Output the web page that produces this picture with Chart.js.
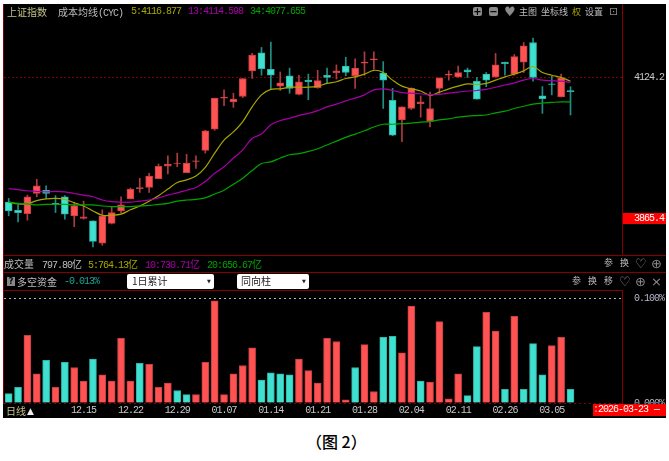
<!DOCTYPE html>
<html>
<head>
<meta charset="utf-8">
<title>上证指数</title>
<script src="https://cdn.jsdelivr.net/npm/chart.js@4/dist/chart.umd.min.js"></script>
<style>
    html, body { margin: 0; padding: 0; background: #fff; overflow: hidden; }
    #stage { position: relative; width: 669px; height: 461px; overflow: hidden; }
    #stage div, #stage span.t, #stage span.c, canvas { position: absolute; }
    #panel { left: 3px; top: 4px; width: 663px; height: 414px; background: #000; }
    .line { background: #860000; }
    .t { font: 10px/12px 'Liberation Mono', monospace; letter-spacing: -1px; white-space: pre; }
    .c { font: 10px/12px 'Noto Sans CJK SC', sans-serif; letter-spacing: 0; white-space: pre; }
    #stage span.c span.t, #stage span.t span.c { position: static; }
    .g { color: #bdbdbd; }
    .k { color: #c4c48c; }
    .y { color: #a6a600; }
    .m { color: #a800a8; }
    .n { color: #00a400; }
    .sym { font: 13px/12px 'DejaVu Sans', sans-serif; color: #8a8a8a; position: absolute; }
    .combo { background: #fff; border-radius: 2px; height: 15px; top: 274px; color: #222; }
    .combo span { position: absolute; top: 2px; }
    .btn { background: #8a8a8a; border-radius: 2px; width: 9px; height: 9px; top: 7px; color: #000;
           font: bold 10px/9px 'DejaVu Sans', sans-serif; text-align: center; }
</style>
</head>
<body>
<div id="stage">
    <div id="panel"></div>
    <div style="left:623px;top:213px;width:43px;height:11px;background:#ff0000"></div>
    <canvas id="priceChart" width="669" height="283" style="left:0;top:-12px"></canvas>
    <canvas id="fundChart" width="669" height="144" style="left:0;top:275px"></canvas>

    <!-- frame lines -->
    <div class="line" style="left:3px;top:4px;width:1px;height:400px"></div>
    <div class="line" style="left:622px;top:4px;width:1px;height:252px"></div>
    <div class="line" style="left:622px;top:291px;width:1px;height:113px"></div>
    <div class="line" style="left:3px;top:255px;width:663px;height:1px"></div>
    <div class="line" style="left:3px;top:272px;width:663px;height:1px"></div>
    <div class="line" style="left:3px;top:290px;width:620px;height:1px"></div>

    <!-- hides the lower half of the 0.000% tick, as in the terminal -->
    <div style="left:623px;top:404px;width:43px;height:14px;background:#000"></div>

    <!-- top row -->
    <span class="c k" style="left:7px;top:6px">上证指数</span>
    <span class="c g" style="left:58px;top:6px">成本均线<span class="t">(CYC)</span></span>
    <span class="t y" style="left:131px;top:6px">5:4116.877</span>
    <span class="t m" style="left:188px;top:6px">13:4114.598</span>
    <span class="t n" style="left:250px;top:6px">34:4077.655</span>
    <div class="btn" style="left:473px">+</div>
    <div class="btn" style="left:489px">−</div>
    <span class="sym" style="left:504px;top:6px">♥</span>
    <span class="c g" style="left:519px;top:6px;font-size:9px">主图</span>
    <span class="c g" style="left:541px;top:6px;font-size:9px">坐标线</span>
    <span class="c y" style="left:572px;top:6px;font-size:9px">权</span>
    <span class="c g" style="left:585px;top:6px;font-size:9px">设置</span>
    <span class="sym" style="left:609px;top:6px;font-size:11px">⊡</span>

    <!-- volume row -->
    <span class="c g" style="left:4px;top:258px">成交量</span>
    <span class="t g" style="left:42px;top:258px">797.80<span class="c">亿</span></span>
    <span class="t y" style="left:88px;top:258px">5:764.13<span class="c">亿</span></span>
    <span class="t m" style="left:145px;top:258px">10:730.71<span class="c">亿</span></span>
    <span class="t n" style="left:207px;top:258px">20:656.67<span class="c">亿</span></span>
    <span class="c g" style="left:604px;top:257px;font-size:9px">参</span>
    <span class="c g" style="left:620px;top:257px;font-size:9px">换</span>
    <span class="sym" style="left:635px;top:258px">♡</span>
    <span class="sym" style="left:651px;top:258px">⊕</span>

    <!-- fund row -->
    <div style="left:7px;top:277px;width:8px;height:9px;background:#888;color:#000;font:bold 8px/9px 'DejaVu Sans';text-align:center">?</div>
    <span class="c g" style="left:17px;top:276px">多空资金</span>
    <span class="t" style="left:64px;top:276px;color:#1fa394">-0.013%</span>
    <div class="combo" style="left:127px;width:87px">
        <span class="c" style="left:5px;top:1px;position:absolute">1日累计</span>
        <span class="sym" style="left:80px;top:1px;color:#222;font-size:5px">▼</span>
    </div>
    <div class="combo" style="left:237px;width:72px">
        <span class="c" style="left:4px;top:1px;position:absolute">同向柱</span>
        <span class="sym" style="left:65px;top:1px;color:#222;font-size:5px">▼</span>
    </div>
    <span class="c g" style="left:572px;top:275px;font-size:9px">参</span>
    <span class="c g" style="left:588px;top:275px;font-size:9px">换</span>
    <span class="c g" style="left:604px;top:275px;font-size:9px">移</span>
    <span class="sym" style="left:619px;top:276px">♡</span>
    <span class="sym" style="left:635px;top:276px">⊕</span>
    <span class="sym" style="left:651px;top:276px">×</span>

    <!-- bottom strip -->
    <span class="c k" style="left:6px;top:405px">日线</span>
    <span class="sym" style="left:27px;top:405px;color:#eee;font-size:9px">▲</span>
    <div style="left:593px;top:404px;width:73px;height:12px;background:#ff0000"></div>
    <span class="t" style="left:593px;top:404px;color:#ffb0b0">:</span>
    <span class="t" style="left:598px;top:404px;color:#fff">2026-03-23</span>
    <span class="t" style="left:654px;top:404px;color:#fff">—</span>

    <span class="c" style="left:306px;top:432px;font-size:16px;font-weight:500;line-height:18px;color:#000">（图 2）</span>
</div>

<script>
// Trading days shown on the x axis
const categories = [
    '12.03', '12.04', '12.05', '12.08', '12.09', '12.10', '12.11', '12.12', '12.15', '12.16',
    '12.17', '12.18', '12.19', '12.22', '12.23', '12.24', '12.25', '12.26', '12.29', '12.30',
    '12.31', '01.05', '01.06', '01.07', '01.08', '01.09', '01.12', '01.13', '01.14', '01.15',
    '01.16', '01.19', '01.20', '01.21', '01.22', '01.23', '01.26', '01.27', '01.28', '01.29',
    '01.30', '02.02', '02.03', '02.04', '02.05', '02.06', '02.09', '02.10', '02.11', '02.12',
    '02.13', '02.24', '02.25', '02.26', '02.27', '03.02', '03.03', '03.04', '03.05', '03.06', '03.09'
];
const tickLabels = ['12.15', '12.22', '12.29', '01.07', '01.14', '01.21', '01.28', '02.04', '02.11', '02.26', '03.05'];
const emptySlots = ['', ' ', '  ', '   ', '    '];

const opens = [
    3895, 3880, 3874, 3911, 3917, 3893, 3905, 3870, 3865, 3861,
    3820, 3856, 3879, 3901, 3920, 3922, 3938, 3961, 3966, 3949,
    3970, 3990, 4029, 4086, 4079, 4089, 4136, 4169, 4139, 4108,
    4127, 4093, 4119, 4105, 4128, 4132, 4145, 4127, 4150, 4156,
    4132, 4082, 4046, 4067, 4076, 4043, 4104, 4128, 4125, 4138,
    4117, 4130, 4125, 4152, 4130, 4152, 4188, 4090, 4112, 4088, 4100
];
const closes = [
    3879, 3876, 3905, 3925, 3911, 3891, 3873, 3889, 3868, 3823,
    3870, 3876, 3890, 3919, 3922, 3943, 3961, 3965, 3967, 3967,
    3971, 4026, 4086, 4088, 4084, 4122, 4165, 4140, 4128, 4114,
    4104, 4116, 4116, 4118, 4124, 4136, 4133, 4141, 4152, 4158,
    4119, 4018, 4070, 4104, 4079, 4067, 4123, 4130, 4133, 4134,
    4084, 4119, 4147, 4149, 4162, 4182, 4124, 4085, 4111, 4123, 4098
];
const highs = [
    3902, 3890, 3908, 3937, 3925, 3907, 3907, 3895, 3897, 3861,
    3881, 3887, 3905, 3921, 3939, 3948, 3965, 3980, 3985, 3983,
    3980, 4027, 4086, 4101, 4095, 4122, 4168, 4179, 4189, 4134,
    4141, 4128, 4130, 4137, 4141, 4147, 4161, 4158, 4171, 4171,
    4153, 4104, 4070, 4105, 4090, 4097, 4123, 4136, 4145, 4141,
    4124, 4133, 4168, 4152, 4166, 4188, 4196, 4107, 4126, 4130, 4107
];
const lows = [
    3870, 3859, 3862, 3905, 3902, 3876, 3864, 3850, 3864, 3813,
    3816, 3855, 3875, 3901, 3913, 3913, 3938, 3947, 3960, 3949,
    3957, 3985, 4027, 4072, 4069, 4087, 4122, 4128, 4102, 4100,
    4095, 4092, 4083, 4104, 4113, 4121, 4127, 4104, 4128, 4139,
    4067, 4017, 4006, 4065, 4051, 4033, 4095, 4119, 4124, 4124,
    4084, 4107, 4124, 4128, 4128, 4133, 4117, 4058, 4092, 4088, 4055
];

// Cost moving averages (CYC 5 / 13 / 34)
const cyc5 = [
    3895, 3892, 3892, 3898, 3901, 3902, 3900, 3894, 3888, 3879,
    3871, 3871, 3873, 3881, 3888, 3897, 3907, 3919, 3931, 3936,
    3943, 3959, 3985, 4009, 4024, 4043, 4070, 4092, 4102, 4103,
    4106, 4106, 4106, 4108, 4113, 4116, 4122, 4125, 4130, 4137,
    4133, 4119, 4108, 4103, 4099, 4091, 4097, 4103, 4108, 4112,
    4111, 4113, 4119, 4125, 4130, 4136, 4144, 4133, 4128, 4124, 4117
];
const cyc13 = [
    3920, 3918, 3916, 3915, 3914, 3915, 3914, 3911, 3908, 3905,
    3899, 3896, 3895, 3895, 3897, 3899, 3903, 3908, 3912, 3917,
    3922, 3933, 3948, 3960, 3976, 3991, 4012, 4020, 4037, 4045,
    4049, 4054, 4058, 4063, 4070, 4075, 4081, 4086, 4092, 4101,
    4103, 4100, 4096, 4095, 4094, 4092, 4093, 4095, 4097, 4099,
    4100, 4102, 4106, 4110, 4114, 4119, 4122, 4119, 4118, 4117, 4115
];
const cyc34 = [
    3895, 3893, 3892, 3890, 3891, 3891, 3891, 3890, 3890, 3890,
    3888, 3887, 3887, 3887, 3888, 3889, 3891, 3893, 3897, 3899,
    3900, 3903, 3910, 3917, 3928, 3939, 3953, 3966, 3969, 3976,
    3982, 3984, 3988, 3993, 4000, 4007, 4014, 4020, 4026, 4033,
    4038, 4038, 4039, 4040, 4042, 4043, 4046, 4048, 4051, 4053,
    4054, 4055, 4059, 4062, 4067, 4071, 4075, 4077, 4078, 4079, 4079
];

// Long/short funds in %, drawn as same-direction columns
const fundValues = [
    -0.009, -0.015, 0.065, 0.028, -0.041, 0.015, -0.039, 0.034, 0.021, -0.042,
    0.027, 0.021, 0.062, 0.021, -0.038, 0.037, 0.015, 0.019, -0.012, -0.008,
    0.008, 0.039, 0.098, 0.008, 0.028, 0.036, 0.053, -0.022, -0.029, -0.028,
    -0.027, 0.042, 0.031, 0.019, 0.062, 0.059, 0.003, -0.034, 0.056, 0.011,
    -0.063, -0.064, 0.048, 0.093, -0.021, 0.020, 0.078, 0.004, 0.028, -0.007,
    -0.054, 0.087, 0.069, -0.013, 0.083, -0.013, -0.057, -0.027, 0.055, 0.063, -0.013
];

const priceTicks = [3865.4, 4124.2];
const fundTicks = [0, 0.1];

const RED = '#ff5252';
const TEAL = '#40e0d0';
const RED_EDGE = '#c43f42';
const TEAL_EDGE = '#2fb5a8';
const RED_WICK = '#ad3c40';
const TEAL_WICK = '#1f8f86';
const TICK_FONT = { family: "'Liberation Mono', monospace", size: 10, lineHeight: '8px' };

const slots = categories.concat(emptySlots);
const isUp = categories.map((_, i) => closes[i] >= opens[i]);
const pick = (flags, up, down) => flags.map(f => (f ? up : down));

// Bitmap terminal digits are narrower than the mono font
const tightText = {
    id: 'tightText',
    beforeDraw(chart) {
        chart.ctx.letterSpacing = '-1px';
    }
};

function costLine(data, color) {
    return {
        type: 'line',
        data: data,
        borderColor: color,
        borderWidth: 1.2,
        pointRadius: 0,
        tension: 0.35,
        order: 1
    };
}

// Tick padding also insets the plot by 12px, the canvases are tall enough to absorb it
new Chart(document.getElementById('priceChart').getContext('2d'), {
    type: 'bar',
    data: {
        labels: slots,
        datasets: [
            costLine(cyc34, '#00a400'),
            costLine(cyc13, '#a800a8'),
            costLine(cyc5, '#a6a600'),
            {
                data: categories.map((_, i) => [opens[i], closes[i]]),
                backgroundColor: pick(isUp, RED, TEAL),
                borderColor: pick(isUp, RED_EDGE, TEAL_EDGE),
                borderWidth: 1,
                borderSkipped: false,
                barThickness: 7,
                grouped: false,
                order: 2
            },
            {
                data: categories.map((_, i) => [lows[i], highs[i]]),
                backgroundColor: pick(isUp, RED_WICK, TEAL_WICK),
                barThickness: 1,
                grouped: false,
                order: 3
            }
        ]
    },
    options: {
        responsive: false,
        animation: false,
        layout: { padding: { left: 4 } },
        plugins: { legend: { display: false }, tooltip: { enabled: false } },
        scales: {
            x: { display: false },
            y: {
                position: 'right',
                min: 3798.1,
                max: 4258.7,
                afterBuildTicks(axis) {
                    axis.ticks = priceTicks.map(v => ({ value: v }));
                },
                afterFit(axis) {
                    axis.width = 47;
                },
                border: { display: false, dash: [2, 2] },
                grid: {
                    drawTicks: false,
                    color: ctx => (ctx.tick.value === 4124.2 ? '#7a0000' : 'transparent')
                },
                ticks: {
                    font: TICK_FONT,
                    padding: 12,
                    color: ctx => (ctx.tick.value === 3865.4 ? '#ffffff' : '#c8c8c8'),
                    callback: v => v.toFixed(1)
                }
            }
        }
    },
    plugins: [tightText]
});

const fundIsLong = fundValues.map(v => v >= 0);

new Chart(document.getElementById('fundChart').getContext('2d'), {
    type: 'bar',
    data: {
        labels: slots,
        datasets: [{
            data: fundValues.map(Math.abs),
            backgroundColor: pick(fundIsLong, RED, TEAL),
            borderColor: pick(fundIsLong, RED_EDGE, TEAL_EDGE),
            borderWidth: 1,
            barThickness: 7
        }]
    },
    options: {
        responsive: false,
        animation: false,
        layout: { padding: { left: 4 } },
        plugins: { legend: { display: false }, tooltip: { enabled: false } },
        scales: {
            x: {
                afterFit(axis) {
                    axis.height = 15;
                },
                border: { display: false },
                grid: { display: false, drawTicks: false },
                ticks: {
                    font: TICK_FONT,
                    color: '#c8c8c8',
                    padding: 3,
                    autoSkip: false,
                    maxRotation: 0,
                    callback(value) {
                        const label = this.getLabelForValue(value);
                        return tickLabels.includes(label) ? label : null;
                    }
                }
            },
            y: {
                position: 'right',
                min: 0,
                max: 0.1074,
                afterBuildTicks(axis) {
                    axis.ticks = fundTicks.map(v => ({ value: v }));
                },
                afterFit(axis) {
                    axis.width = 47;
                },
                border: { display: false, dash: [2, 3] },
                grid: {
                    drawTicks: false,
                    color: ctx => (ctx.tick.value === 0 ? '#860000' : '#b4b4b4')
                },
                ticks: {
                    font: TICK_FONT,
                    padding: 12,
                    color: '#b8b8c8',
                    callback: v => v.toFixed(3) + '%'
                }
            }
        }
    },
    plugins: [tightText]
});
</script>
</body>
</html>
